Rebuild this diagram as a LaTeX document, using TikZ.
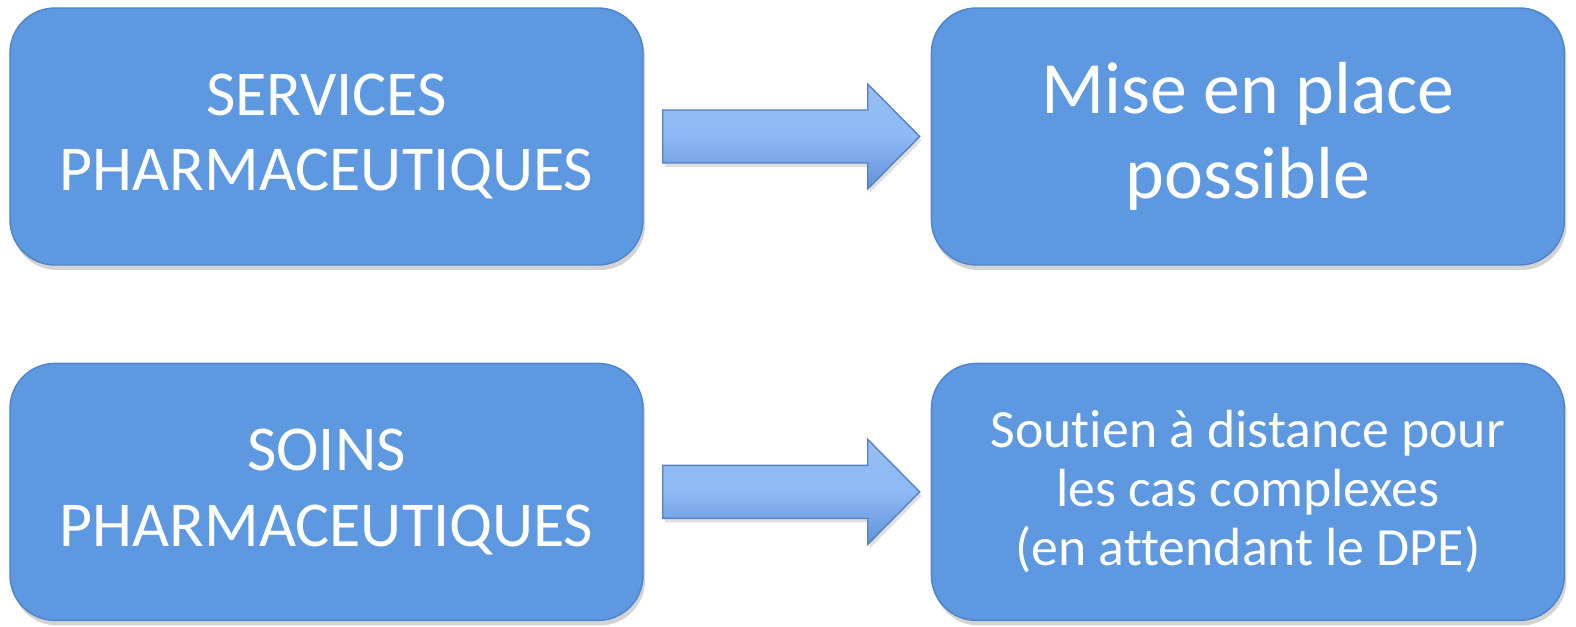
\documentclass[tikz,border=0pt]{standalone}
\usepackage{fontspec}
\setmainfont[Ligatures=NoCommon]{Carlito}
\usetikzlibrary{positioning, calc, shadows}

\definecolor{boxblue}{RGB}{93,152,224}
\definecolor{boxedge}{RGB}{80,132,202}
\definecolor{arrowtop}{RGB}{150,190,242}
\definecolor{arrowmid}{RGB}{142,185,245}
\definecolor{arrowbot}{RGB}{98,145,218}
\definecolor{arrowedge}{RGB}{88,128,192}

\begin{document}
\begin{tikzpicture}[block/.style={rectangle,rounded corners=0.45cm,draw=boxedge,fill=boxblue,text=white,minimum width=6.33cm,minimum height=2.57cm,align=center,drop shadow={opacity=0.35,shadow xshift=0.02cm,shadow yshift=-0.05cm}},node distance = 0.97cm and 2.87cm , fatarrow/.style={draw=arrowedge,top color=arrowtop,bottom color=arrowbot,middle color=arrowmid,line join=miter,drop shadow={opacity=0.25,shadow xshift=0.02cm,shadow yshift=-0.04cm}} ]
\useasboundingbox (0,0) rectangle (15.76,6.27);
\node (b1) [block, font=\fontsize{18.2}{21.5}\selectfont] at (3.265,4.905) {SERVICES\\PHARMACEUTIQUES};
\node (b2) [block, font=\fontsize{21}{24}\selectfont, right=of b1] {Mise en place\\possible};
\node (b3) [block, font=\fontsize{18.2}{21.5}\selectfont, below=of b1] {SOINS\\PHARMACEUTIQUES};
\node (b4) [block, font=\fontsize{15.3}{16.8}\selectfont, right=of b3] {Soutien à distance pour\\les cas complexes\\(en attendant le DPE)};
  \begin{scope}
    \draw [fatarrow] ($(b1.east)+(0.19,0.265)$) -- ($(b2.west)+(-0.63,0.265)$) -- ($(b2.west)+(-0.63,0.525)$) -- ($(b2.west)+(-0.11,0)$) -- ($(b2.west)+(-0.63,-0.525)$) -- ($(b2.west)+(-0.63,-0.265)$) -- ($(b1.east)+(0.19,-0.265)$) -- cycle;
    \draw [fatarrow] ($(b3.east)+(0.19,0.265)$) -- ($(b4.west)+(-0.63,0.265)$) -- ($(b4.west)+(-0.63,0.525)$) -- ($(b4.west)+(-0.11,0)$) -- ($(b4.west)+(-0.63,-0.525)$) -- ($(b4.west)+(-0.63,-0.265)$) -- ($(b3.east)+(0.19,-0.265)$) -- cycle;
  \end{scope}
\end{tikzpicture}
\end{document}
